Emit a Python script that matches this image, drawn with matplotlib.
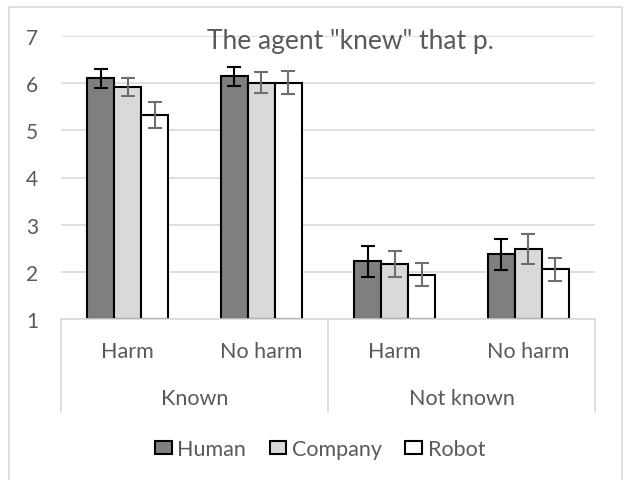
import matplotlib
matplotlib.use("Agg")
import matplotlib.pyplot as plt
from matplotlib.patches import Rectangle
from matplotlib.lines import Line2D
import numpy as np

plt.rcParams['font.family'] = ['Lato', 'DejaVu Sans']

subcats = ["Harm", "No harm", "Harm", "No harm"]
groups = ["Known", "Not known"]
series = ["Human", "Company", "Robot"]
human = [6.10, 6.15, 2.22, 2.37]
company = [5.92, 6.01, 2.17, 2.48]
robot = [5.33, 6.01, 1.94, 2.05]
human_err = [0.20, 0.20, 0.32, 0.33]
company_err = [0.19, 0.22, 0.27, 0.32]
robot_err = [0.28, 0.24, 0.25, 0.25]
title = 'The agent "knew" that p.'

W, H = 626, 481
fig = plt.figure(figsize=(W / 100, H / 100), dpi=100)
fig.patch.set_facecolor('white')

def fx(px):
    return px / W

def fy(py):
    return 1 - py / H

# outer chart border
fig.add_artist(Rectangle((fx(9), fy(490)), fx(622) - fx(9), fy(8) - fy(490),
                         transform=fig.transFigure, fill=False,
                         edgecolor='#d9d9d9', lw=1.2))

L, R, T, B = 61, 595, 37, 320
ax = fig.add_axes([fx(L), fy(B), fx(R) - fx(L), fy(T) - fy(B)])
ax.set_xlim(-0.5, 3.5)
ax.set_ylim(1, 7)
ax.set_yticks(range(1, 8))
ax.yaxis.grid(True, color='#d9d9d9', lw=1.2)
ax.set_axisbelow(True)
for s in ax.spines.values():
    s.set_visible(False)
ax.tick_params(axis='y', length=0, labelsize=15, labelcolor='#595959', pad=16.5)
ax.set_xticks([])

x = np.arange(len(subcats))
w = 27 / 133.5
colors = ['#7f7f7f', '#d9d9d9', '#ffffff']
errcols = ['#000000', '#6f6f6f', '#6f6f6f']
vals = [human, company, robot]
errs = [human_err, company_err, robot_err]
for i, (v, e) in enumerate(zip(vals, errs)):
    xs = x + (i - 1) * w
    ax.bar(xs, np.array(v) - 1, bottom=1, width=w, color=colors[i],
           edgecolor='black', lw=1.5, zorder=2)
    ax.errorbar(xs, v, yerr=e, fmt='none', ecolor=errcols[i],
                elinewidth=1.5, capsize=5, capthick=1.5, zorder=3)

# category axis line and separators
fig.add_artist(Line2D([fx(L), fx(R)], [fy(B), fy(B)], transform=fig.transFigure,
                      color='#d9d9d9', lw=1.2))
for px in [L, (L + R) / 2, R]:
    fig.add_artist(Line2D([fx(px), fx(px)], [fy(B), fy(413)],
                          transform=fig.transFigure, color='#d9d9d9', lw=1.2))

tc = '#595959'
for i, lab in enumerate(subcats):
    xd = ax.transData.transform((x[i], 1))[0] / W
    fig.text(xd, fy(358), lab, ha='center', va='baseline', fontsize=15.5, color=tc)
for j, g in enumerate(groups):
    cx = (x[2 * j] + x[2 * j + 1]) / 2
    xd = ax.transData.transform((cx, 1))[0] / W
    fig.text(xd, fy(405), g, ha='center', va='baseline', fontsize=15.5, color=tc)

fig.text(fx(350), fy(49), title, ha='center', va='baseline', fontsize=19, color=tc)

handles = [Rectangle((0, 0), 1, 1, facecolor=c, edgecolor='black', lw=1.5) for c in colors]
leg = fig.legend(handles, series, loc='center', bbox_to_anchor=(fx(320), fy(450)),
                 ncol=3, frameon=False, fontsize=15.5, handlelength=0.78,
                 handleheight=0.55, handletextpad=0.25, columnspacing=1.1,
                 borderpad=0, borderaxespad=0)
for t in leg.get_texts():
    t.set_color(tc)

fig.savefig('out.png', dpi=100, facecolor='white')
